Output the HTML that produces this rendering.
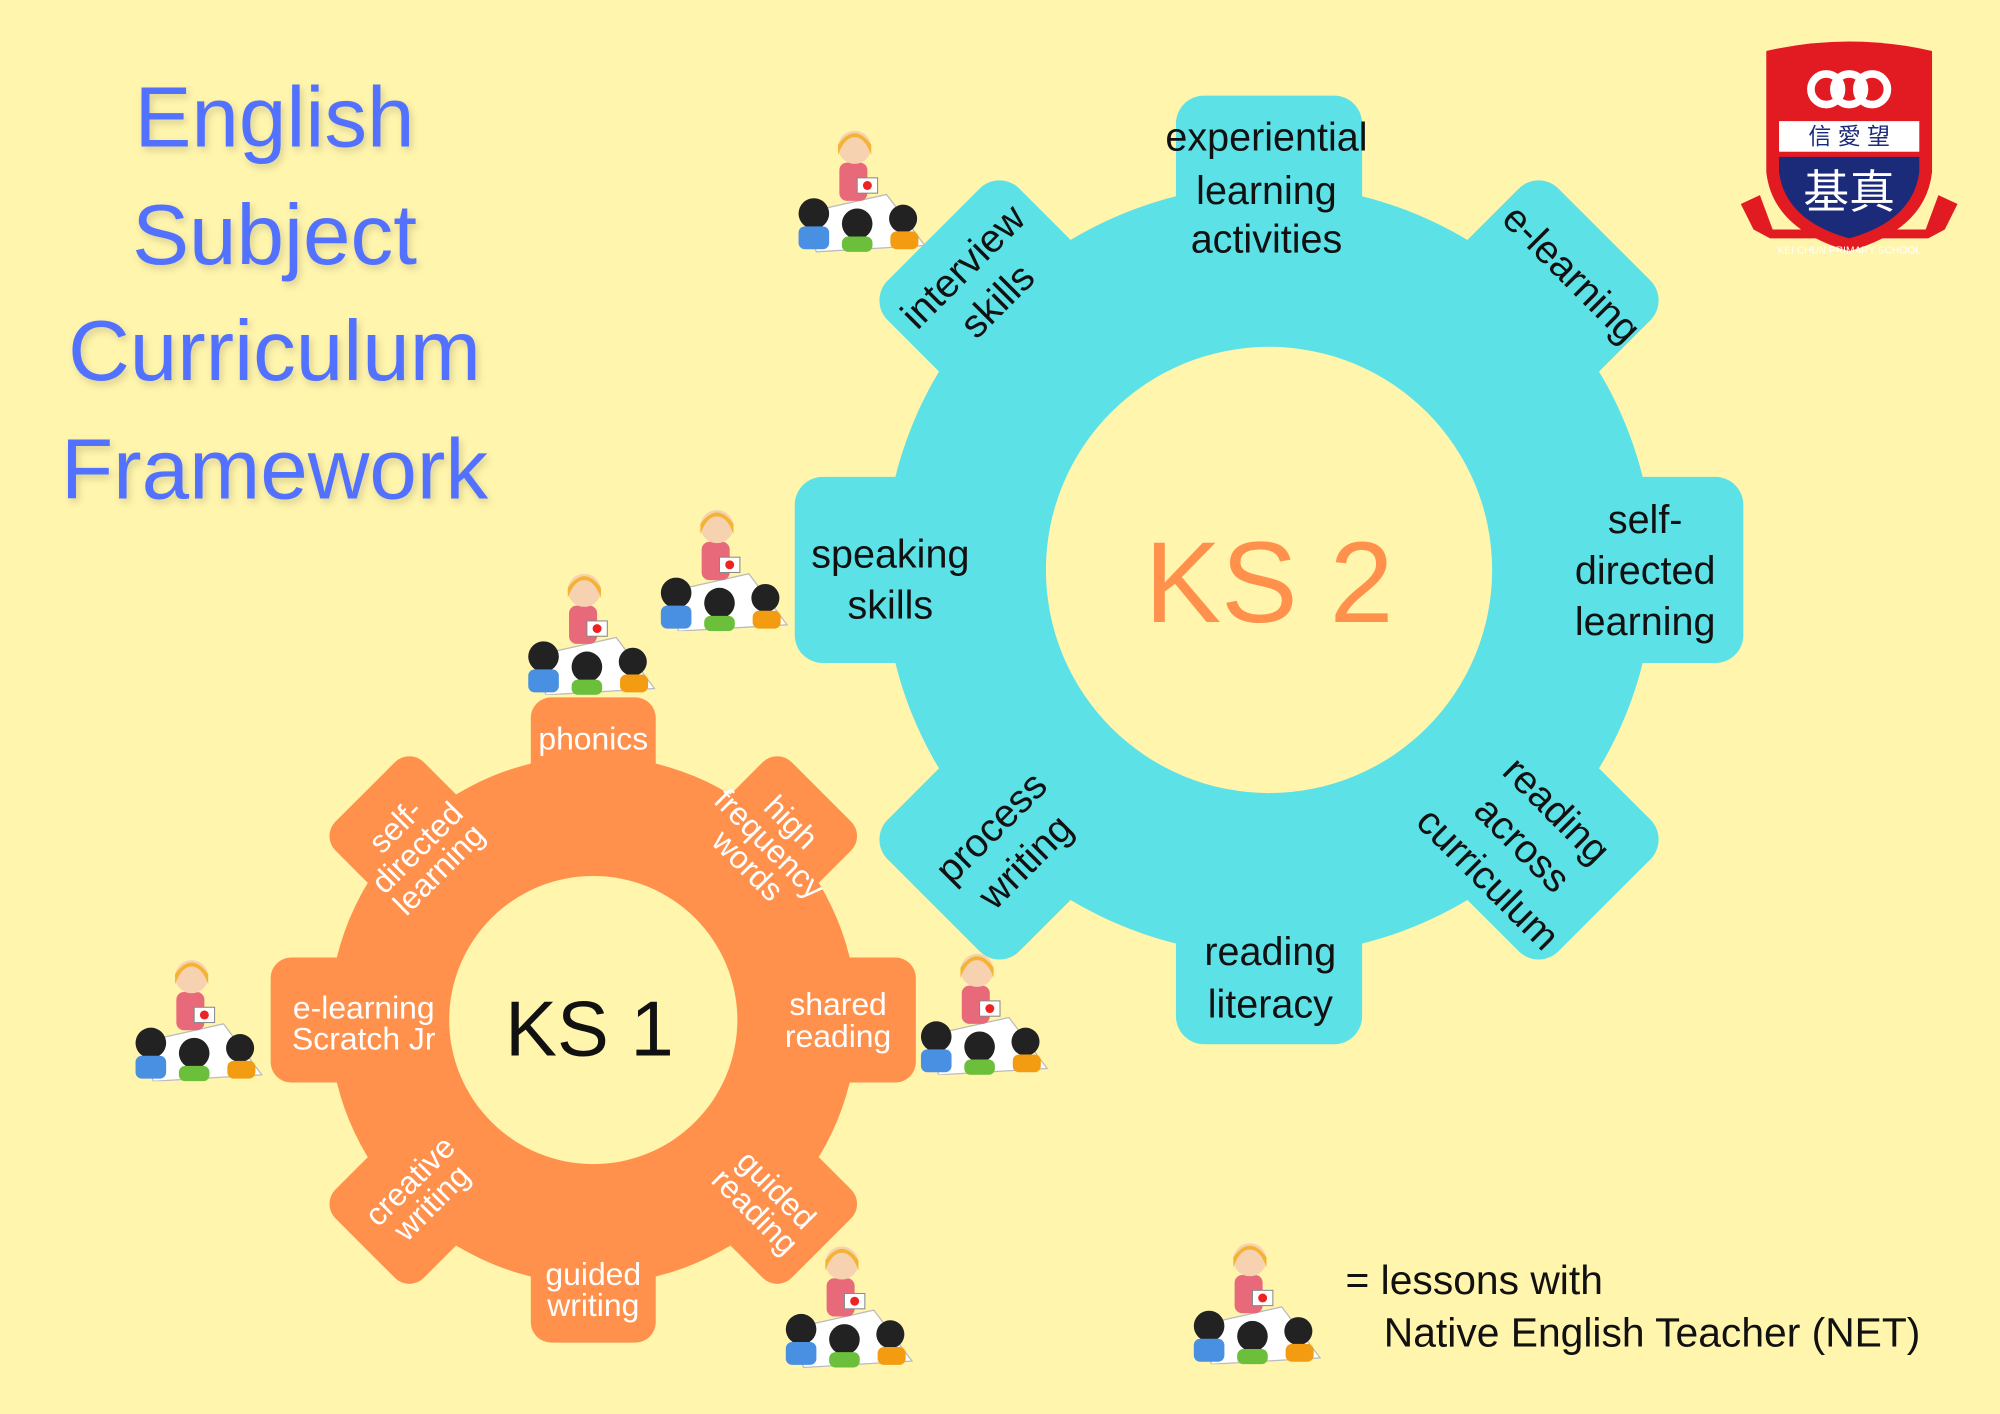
<!DOCTYPE html>
<html><head><meta charset="utf-8"><style>
html,body{margin:0;padding:0;background:#FFF5AD;}
svg{display:block}
text{font-family:"Liberation Sans","Noto Sans CJK SC",sans-serif;text-anchor:middle}
</style></head><body>
<svg width="2000" height="1414" viewBox="0 0 1568 1109" xmlns="http://www.w3.org/2000/svg">
<defs>
<symbol id="kids" viewBox="0 0 110 100">
<polygon points="8,70 75,55 105,95 20,100" fill="#fff" stroke="#bbb" stroke-width="1"/>
<rect x="38" y="30" width="22" height="30" rx="6" fill="#e86a7a"/>
<circle cx="50" cy="18" r="13" fill="#f6d2b0"/>
<path d="M37,16 Q50,-2 63,16 L63,24 Q58,10 50,10 Q42,10 37,24Z" fill="#f5b335"/>
<rect x="52" y="42" width="16" height="12" fill="#fff" stroke="#888" stroke-width="0.8"/>
<circle cx="60" cy="48" r="3.5" fill="#e22"/>
<circle cx="18" cy="70" r="12" fill="#222"/>
<rect x="6" y="80" width="24" height="18" rx="5" fill="#4a90e2"/>
<circle cx="52" cy="78" r="12" fill="#222"/>
<rect x="40" y="88" width="24" height="12" rx="5" fill="#6bbf3b"/>
<circle cx="88" cy="74" r="11" fill="#222"/>
<rect x="78" y="84" width="22" height="14" rx="5" fill="#f39c12"/>
</symbol>
</defs>
<rect width="1568" height="1109" fill="#FFF5AD"/>

<g fill="#5271FF" font-size="67" style="filter:drop-shadow(2px 3px 3px rgba(0,0,0,0.15))">
<text x="215" y="115">English</text>
<text x="215" y="207">Subject</text>
<text x="215" y="298">Curriculum</text>
<text x="215" y="391">Framework</text>
</g>

<g transform="translate(995,447)" fill="#5CE1E6">
<circle r="302"/>
<g id="t2"><rect x="-73" y="-372" width="146" height="140" rx="22"/></g>
<use href="#t2" transform="rotate(45)"/><use href="#t2" transform="rotate(90)"/>
<use href="#t2" transform="rotate(135)"/><use href="#t2" transform="rotate(180)"/>
<use href="#t2" transform="rotate(225)"/><use href="#t2" transform="rotate(270)"/>
<use href="#t2" transform="rotate(315)"/>
<circle r="175" fill="#FFF5AD"/>
</g>
<text x="995" y="488" font-size="90" fill="#FF914D">KS 2</text>
<g font-size="31" fill="#111">
<text x="993" y="118">experiential</text><text x="993" y="160">learning</text><text x="993" y="198">activities</text>
<text transform="translate(1225,222) rotate(45)">e-learning</text>
<text x="1290" y="418">self-</text><text x="1290" y="458">directed</text><text x="1290" y="498">learning</text>
<g transform="translate(1192,664) rotate(45)"><text y="-30">reading</text><text y="8">across</text><text y="46">curriculum</text></g>
<text x="996" y="757">reading</text><text x="996" y="798">literacy</text>
<g transform="translate(790,662) rotate(-45)"><text y="-8">process</text><text y="30">writing</text></g>
<text x="698" y="445">speaking</text><text x="698" y="485">skills</text>
<g transform="translate(768,222) rotate(-45)"><text y="-8">interview</text><text y="30">skills</text></g>
</g>

<g transform="translate(465,800)" fill="#FF914D">
<circle r="207"/>
<g id="t1"><rect x="-49" y="-253" width="98" height="100" rx="16"/></g>
<use href="#t1" transform="rotate(45)"/><use href="#t1" transform="rotate(90)"/>
<use href="#t1" transform="rotate(135)"/><use href="#t1" transform="rotate(180)"/>
<use href="#t1" transform="rotate(225)"/><use href="#t1" transform="rotate(270)"/>
<use href="#t1" transform="rotate(315)"/>
<circle r="113" fill="#FFF5AD"/>
</g>
<text x="462" y="828" font-size="61" fill="#111">KS 1</text>
<g font-size="25" fill="#fff">
<text x="465" y="588">phonics</text>
<g transform="translate(600,665) rotate(45)"><text y="-20">high</text><text y="4">frequency</text><text y="28">words</text></g>
<text x="657" y="796">shared</text><text x="657" y="821">reading</text>
<g transform="translate(600,942) rotate(45)"><text y="-4">guided</text><text y="20">reading</text></g>
<text x="465" y="1008">guided</text><text x="465" y="1032">writing</text>
<g transform="translate(330,935) rotate(-45)"><text y="-4">creative</text><text y="20">writing</text></g>
<text x="285" y="799">e-learning</text><text x="285" y="823">Scratch Jr</text>
<g transform="translate(330,668) rotate(-45)"><text y="-20">self-</text><text y="4">directed</text><text y="28">learning</text></g>
</g>

<use href="#kids" x="620" y="90" width="110" height="115"/>
<use href="#kids" x="512" y="395" width="110" height="100"/>
<use href="#kids" x="408" y="445" width="110" height="100"/>
<use href="#kids" x="100" y="748" width="110" height="100"/>
<use href="#kids" x="716" y="743" width="110" height="100"/>
<use href="#kids" x="610" y="965" width="110" height="115"/>
<use href="#kids" x="930" y="970" width="110" height="100"/>

<g font-size="32" fill="#111">
<text x="1055" y="1015" style="text-anchor:start">= lessons with</text>
<text x="1085" y="1056" style="text-anchor:start">Native English Teacher (NET)</text>
</g>

<g transform="translate(1450,125)">
<path d="M-85,35 L-70,28 L-60,55 L60,55 L70,28 L85,35 L75,55 L62,62 L-62,62 L-75,55Z" fill="#e21b23"/>
<path d="M-65,-85 Q0,-100 65,-85 L65,10 Q60,55 0,72 Q-60,55 -65,10Z" fill="#e21b23"/>
<path d="M-55,-2 L55,-2 L55,10 Q50,48 0,62 Q-50,48 -55,10Z" fill="#1c2a7a"/>
<rect x="-55" y="-30" width="110" height="24" fill="#fff"/>
<g fill="none" stroke="#fff" stroke-width="6"><circle cx="-18" cy="-55" r="12"/><circle cx="0" cy="-55" r="12"/><circle cx="18" cy="-55" r="12"/></g>
<text y="-12" font-size="18" fill="#1c2a7a" font-family="Noto Sans CJK TC">信 愛 望</text>
<text y="38" font-size="36" fill="#fff" font-family="Noto Serif CJK SC">基真</text>
<text y="74" font-size="8" fill="#fff">KEI CHUN PRIMARY SCHOOL</text>
</g>
</svg>
</body></html>
